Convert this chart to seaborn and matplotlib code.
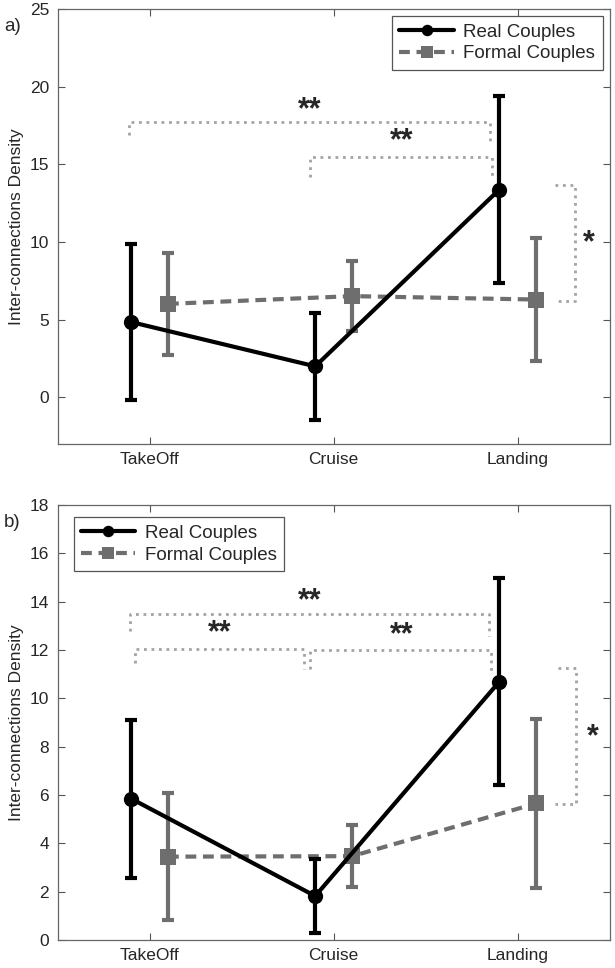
import numpy as np
import pandas as pd
import matplotlib
matplotlib.use("Agg")
import matplotlib.pyplot as plt
import seaborn as sns

# data
phases = ["TakeOff", "Cruise", "Landing"]

# panel a)
real_a = [4.85, 2.0, 13.38]
real_a_err = [5.03, 3.45, 6.0]
formal_a = [6.02, 6.52, 6.3]
formal_a_err = [3.3, 2.25, 3.95]

# panel b)
real_b = [5.85, 1.82, 10.69]
real_b_err = [3.27, 1.53, 4.28]
formal_b = [3.45, 3.47, 5.65]
formal_b_err = [2.63, 1.28, 3.48]

# significance marks: (x-from, x-to, level, left leg end, right leg end, label, text x, text y)
sig_a = [
    (0.89, 2.85, 17.75, 16.9, 16.45, "**", 1.87, 18.5),
    (1.87, 2.86, 15.45, 14.2, 14.05, "**", 2.37, 16.5),
]
sig_b = [
    (0.895, 2.845, 13.5, 12.8, 12.6, "**", 1.87, 14.0),
    (0.92, 1.84, 12.05, 11.45, 11.2, "**", 1.38, 12.7),
    (1.87, 2.855, 12.0, 11.2, 11.1, "**", 2.37, 12.6),
]
# vertical bracket between landing means: (x, top, bottom, x-start top, x-start bottom, star x, star y)
vsig_a = (3.31, 13.65, 6.2, 3.2, 3.195, 3.385, 9.9)
vsig_b = (3.315, 11.27, 5.62, 3.22, 3.2, 3.41, 8.4)

sns.set_style("white")
plt.rcParams["font.family"] = ["Liberation Sans", "DejaVu Sans"]

black = "black"
grey = "#6e6e6e"
dotgrey = "#a3a3a3"


def panel(ax, real, real_err, formal, formal_err, ylim, yticks, legend_loc, legend_anchor,
          sigs, vsig, tag):
    xpos = np.arange(1, len(phases) + 1)
    df = pd.DataFrame({
        "pos": np.concatenate([xpos - 0.1, xpos + 0.1]),
        "density": real + formal,
        "group": ["Real Couples"] * 3 + ["Formal Couples"] * 3,
    })
    d_real = df[df.group == "Real Couples"]
    d_formal = df[df.group == "Formal Couples"]

    ax.errorbar(d_formal.pos, d_formal.density, yerr=formal_err, fmt="none",
                ecolor=grey, elinewidth=3, capsize=4, capthick=3, zorder=2)
    sns.lineplot(data=d_formal, x="pos", y="density", ax=ax, color=grey, lw=3,
                 marker="s", markersize=11, markeredgewidth=0,
                 linestyle=(0, (2.6, 1.6)), label="Formal Couples", zorder=3)
    ax.errorbar(d_real.pos, d_real.density, yerr=real_err, fmt="none",
                ecolor=black, elinewidth=3, capsize=4, capthick=3, zorder=4)
    sns.lineplot(data=d_real, x="pos", y="density", ax=ax, color=black, lw=3,
                 marker="o", markersize=11, markeredgewidth=0,
                 label="Real Couples", zorder=5)

    dots = dict(color=dotgrey, lw=2, linestyle=(0, (1, 1.7)), zorder=1)
    for x0, x1, lev, l0, l1, lab, tx, ty in sigs:
        ax.plot([x0, x0, x1, x1], [l0, lev, lev, l1], **dots)
        ax.text(tx, ty, lab, ha="center", va="center", fontsize=22, fontweight="bold")
    vx, vt, vb, xt, xb, sx, sy = vsig
    ax.plot([xt, vx, vx, xb], [vt, vt, vb, vb], **dots)
    ax.text(sx, sy, "*", ha="center", va="center", fontsize=22, fontweight="bold")

    ax.set_xlim(0.5, 3.5)
    ax.set_ylim(*ylim)
    ax.set_xticks(xpos)
    ax.set_xticklabels(phases)
    ax.set_yticks(yticks)
    ax.set_xlabel("")
    ax.set_ylabel("Inter-connections Density", fontsize=12.5)
    ax.tick_params(direction="in", length=5, width=0.8, color="#555555",
                   labelsize=12.5, top=True, right=True, bottom=True, left=True, pad=6)
    for s in ax.spines.values():
        s.set_color("#666666")
        s.set_linewidth(0.9)

    handles, labels = ax.get_legend_handles_labels()
    order = [labels.index("Real Couples"), labels.index("Formal Couples")]
    leg = ax.legend([handles[i] for i in order], [labels[i] for i in order],
                    loc=legend_loc, bbox_to_anchor=legend_anchor, borderaxespad=0,
                    fontsize=13.5, handlelength=2.9, frameon=True, fancybox=False,
                    framealpha=1, edgecolor="#555555", borderpad=0.4,
                    labelspacing=0.25, handletextpad=0.5, markerscale=0.75)
    leg.get_frame().set_linewidth(0.9)
    ax.text(-0.082, 0.96, tag, transform=ax.transAxes, fontsize=13.5, ha="center", va="center")


fig = plt.figure(figsize=(6.15, 9.68), dpi=100)
ax1 = fig.add_axes([0.0935, 0.5413, 0.898, 0.4494])
ax2 = fig.add_axes([0.0935, 0.0289, 0.898, 0.4494])

panel(ax1, real_a, real_a_err, formal_a, formal_a_err, (-3, 25), np.arange(0, 26, 5),
      "upper right", (0.987, 0.984), sig_a, vsig_a, "a)")
panel(ax2, real_b, real_b_err, formal_b, formal_b_err, (0, 18), np.arange(0, 19, 2),
      "upper left", (0.029, 0.972), sig_b, vsig_b, "b)")

fig.savefig("out.png", dpi=100)
